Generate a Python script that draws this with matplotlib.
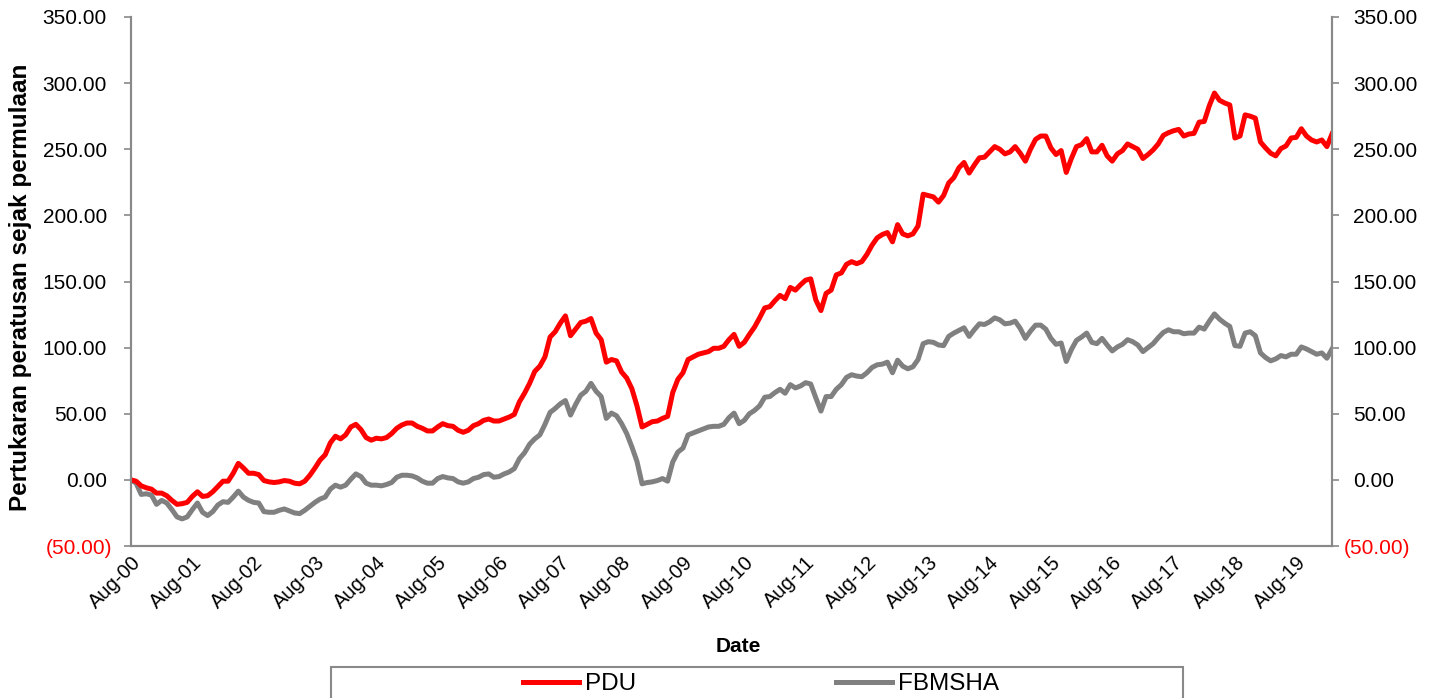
import matplotlib
matplotlib.use("Agg")
import matplotlib.pyplot as plt
from matplotlib.ticker import FixedLocator, FuncFormatter
from matplotlib.patches import Rectangle
from matplotlib.transforms import ScaledTranslation

plt.rcParams['font.family'] = ['Liberation Sans', 'DejaVu Sans']

# Monthly series, Aug-2000 .. Mar-2020 (cumulative % change since inception)
pdu = [
    0, -1, -4.5, -6, -7, -10, -10, -12, -15.5, -18.5,
    -18, -17, -12.5, -9, -12.5, -12, -9, -5, -1, -1,
    5, 12.5, 9, 5, 5, 4, -0.5, -1.5, -2, -1.5,
    -0.5, -1, -2.5, -3, -1, 3.5, 9, 15, 19, 28,
    33, 31, 34, 40, 42, 38, 32, 30, 31.5, 31,
    32, 35, 39, 41.5, 43, 43, 40.5, 39, 37, 37,
    40, 42.5, 41, 40.5, 37.5, 36, 37.5, 41, 42.5, 45,
    46, 44.5, 44.5, 46, 47.5, 49.5, 59, 65.5, 73, 82,
    86, 93, 108, 112, 118.5, 124, 109, 114, 119, 120,
    122, 111, 106, 89, 91, 90, 81.5, 77, 69, 56,
    40, 42, 44, 44.5, 46.5, 48, 66, 76, 81, 91,
    93, 95, 96, 97, 99.5, 99.5, 101, 106, 110, 101,
    104, 110, 115.5, 122.5, 130, 131, 135.5, 139.5, 137, 145.5,
    143.5, 147.5, 151, 152, 136, 128, 141, 143.5, 155, 156.5,
    163, 165, 163.5, 165, 170.5, 177.5, 183, 185.5, 187, 180,
    193, 186, 184.5, 186, 192, 216, 215, 214, 210, 215,
    224.5, 228.5, 236, 240, 232, 238, 243.5, 244, 248, 252,
    250, 246.5, 248, 252, 247, 241, 250, 257.5, 260, 260,
    251, 246, 249, 232.5, 243, 252, 253.5, 258, 248, 248,
    253, 245, 241, 246.5, 249, 254, 252, 250, 243, 246,
    249.5, 254, 260.5, 262.5, 264, 265, 260, 261.5, 262, 270.5,
    271, 283, 292.5, 287, 285, 283.5, 258.5, 260, 276, 275,
    273.5, 255.5, 251, 247, 245, 250.5, 252.5, 258.5, 259, 265.5,
    260, 257, 255.5, 257, 252, 261.5,
]

fbmsha = [
    0, -2.5, -11, -10.5, -11.5, -18.5, -15.5, -17.5, -22.5, -28,
    -29.5, -28, -22.5, -17.5, -24.5, -27, -24, -19, -16.5, -17,
    -13, -8.5, -13, -15.5, -17, -17.5, -24, -24.5, -24.5, -23,
    -22, -23.5, -25, -25.5, -23, -20, -17, -14.5, -13, -7,
    -4, -5.5, -4, 0.5, 4.5, 2.5, -2.5, -4, -4, -4.5,
    -3.5, -2, 2, 3.5, 3.5, 3, 1.5, -1, -2.5, -2.5,
    1, 2.5, 1.5, 1, -1.5, -2.5, -1.5, 1, 2, 4,
    4.5, 2, 2.5, 4.5, 6, 8.5, 16, 20.5, 27, 31,
    34, 42, 51, 54, 57.5, 60, 49, 57, 64, 67,
    73, 67, 63, 46.5, 50.5, 48.5, 42.5, 35, 25, 14,
    -3, -2, -1.5, -0.5, 1, -1, 13.5, 21, 24, 34,
    35.5, 37, 38.5, 40, 40.5, 40.5, 42, 47, 50.5, 42.5,
    45, 50, 52.5, 56, 62.5, 63, 66, 68.5, 65.5, 72,
    69.5, 71, 73.5, 72.5, 62, 52, 63, 63, 68.5, 72,
    77.5, 79.5, 78.5, 78, 81, 85, 87, 87.5, 89, 81,
    90.5, 86, 84, 85.5, 91, 103, 104.5, 104, 102, 101.5,
    108.5, 111, 113, 115, 108.5, 113.5, 118, 117.5, 119.5, 122.5,
    121, 118, 118.5, 120, 114.5, 107, 112.5, 117, 117, 114,
    107, 102.5, 103.5, 89.5, 98.5, 105.5, 108, 111, 104, 103,
    107, 102, 97.5, 100.5, 102.5, 106, 104.5, 102, 97, 100,
    103, 107.5, 111.5, 113.5, 112, 112, 110.5, 111, 111, 115.5,
    114, 120, 125.5, 121.5, 118.5, 116, 101.5, 101, 111, 112,
    109, 96, 92.5, 90, 91.5, 94, 93, 95, 95, 100.5,
    99, 97, 95, 96, 92, 99,
]

tick_labels = ["Aug-%02d" % y for y in range(0, 20)]
tick_positions = [12 * i for i in range(len(tick_labels))]
y_ticks = [-50, 0, 50, 100, 150, 200, 250, 300, 350]

months = list(range(len(pdu)))

W, H = 1434, 698
fig = plt.figure(figsize=(W / 100, H / 100), dpi=100)
ax = fig.add_axes([131 / W, (H - 546) / H, (1332 - 131) / W, (546 - 17) / H])

line_pdu, = ax.plot(months, pdu, color="#FF0000", lw=3.6, solid_joinstyle="round", label="PDU", zorder=3)
line_fb, = ax.plot(months, fbmsha, color="#808080", lw=3.6, solid_joinstyle="round", label="FBMSHA", zorder=2)

ax.set_xlim(0, len(pdu) - 1)
ax.set_ylim(-50, 350)

def fmt(v, pos=None):
    if v < 0:
        return "(%.2f)" % abs(v)
    return "%.2f" % v

axis_col = "#898989"
fs_y = 15
fs_x = 14.5

ax.yaxis.set_major_locator(FixedLocator(y_ticks))
ax.yaxis.set_major_formatter(FuncFormatter(fmt))
ax.set_xticks(tick_positions)
ax.set_xticklabels(tick_labels, rotation=45, ha="right", rotation_mode="anchor", fontsize=fs_x)
ax.tick_params(axis="x", length=0, pad=5)
ax.tick_params(axis="y", length=5, width=1.2, color=axis_col, labelsize=fs_y, pad=12.3)

ax.spines["top"].set_visible(False)
for s in ["left", "bottom", "right"]:
    ax.spines[s].set_color(axis_col)
    ax.spines[s].set_linewidth(1.5)

ax2 = ax.twinx()
ax2.set_ylim(ax.get_ylim())
ax2.yaxis.set_major_locator(FixedLocator(y_ticks))
ax2.yaxis.set_major_formatter(FuncFormatter(fmt))
ax2.tick_params(axis="y", length=5, width=1.2, color=axis_col, labelsize=fs_y, pad=10)
ax2.spines["top"].set_visible(False)
for s in ["left", "bottom", "right"]:
    ax2.spines[s].set_color(axis_col)
    ax2.spines[s].set_linewidth(1.5)

fig.canvas.draw()
for a, shift in ((ax, 5.0), (ax2, -9.0)):
    for tick in a.yaxis.get_major_ticks():
        for lab in (tick.label1, tick.label2):
            if lab.get_text().startswith("("):
                lab.set_color("#FF0000")
                lab.set_transform(lab.get_transform() + ScaledTranslation(shift / 100, 0, fig.dpi_scale_trans))

ax.set_ylabel("Pertukaran peratusan sejak permulaan", fontsize=17.5, fontweight="bold", va="center")
ax.yaxis.set_label_coords(-(131 - 21) / (1332 - 131), 0.5 - (287 - 281.5) / (546 - 17))
ax.set_xlabel("Date", fontsize=15, fontweight="bold", va="center")
ax.xaxis.set_label_coords((738 - 131) / (1332 - 131), -(647 - 546) / (546 - 17))

# legend box (clipped at the bottom edge like the reference)
fig.patches.append(Rectangle((331 / W, -0.05), (1183 - 331) / W, 0.05 + (H - 667) / H,
                             transform=fig.transFigure, fill=False, edgecolor=axis_col, lw=1.5))
fig.legend(handles=[line_pdu, line_fb], loc="center", bbox_to_anchor=(761 / W, (H - 684) / H),
           ncol=2, frameon=False, fontsize=17.5, handlelength=2.3, handletextpad=0.25,
           columnspacing=8.2, borderpad=0, borderaxespad=0)

fig.savefig("out.png", dpi=100)
